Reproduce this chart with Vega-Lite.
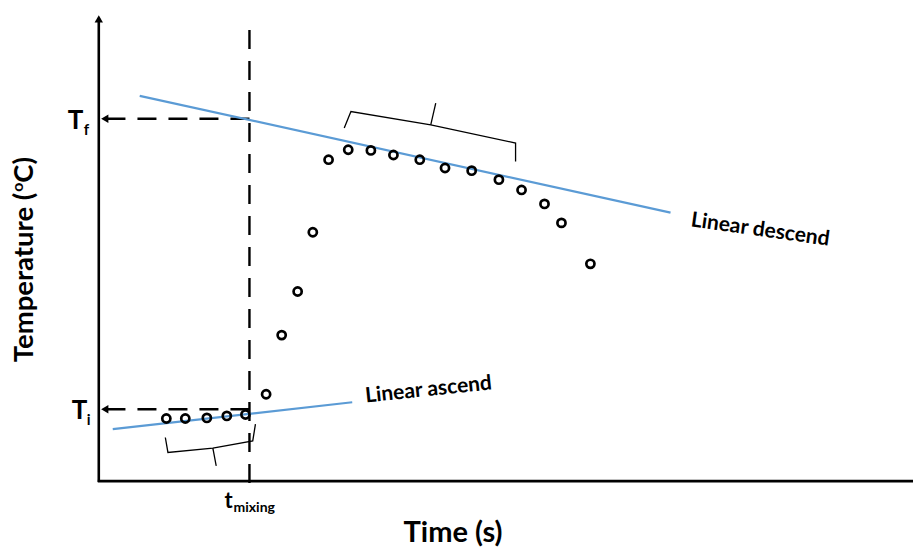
{
  "$schema": "https://vega.github.io/schema/vega-lite/v6.json",
  "width": 915,
  "height": 548,
  "autosize": {"type": "fit", "contains": "padding"},
  "padding": 0,
  "background": "white",
  "config": {"view": {"stroke": null}, "font": "Lato"},
  "datasets": {
    "axes": [
      {"t": 0, "T": -0.1, "t2": 0, "T2": 46.4},
      {"t": -0.1, "T": 0, "t2": 81.6, "T2": 0}
    ],
    "dashed": [
      {"t": 15.1, "T": 45.2, "t2": 15.1, "T2": -0.8},
      {"t": 15.1, "T": 36.3, "t2": 0.3, "T2": 36.3},
      {"t": 15.1, "T": 7.2, "t2": 0.3, "T2": 7.2}
    ],
    "arrows": [
      {"t": 0, "T": 46.3, "dir": "up"},
      {"t": 0.6, "T": 36.3, "dir": "left"},
      {"t": 0.6, "T": 7.2, "dir": "left"}
    ],
    "fits": [
      {"line": "descend", "t": 4.1, "T": 38.6},
      {"line": "descend", "t": 57.3, "T": 26.9},
      {"line": "ascend", "t": 1.4, "T": 5.2},
      {"line": "ascend", "t": 25.4, "T": 7.9}
    ],
    "points": [
      {"t": 6.77, "T": 6.27},
      {"t": 8.67, "T": 6.27},
      {"t": 10.83, "T": 6.33},
      {"t": 12.83, "T": 6.53},
      {"t": 14.7, "T": 6.67},
      {"t": 16.77, "T": 8.7},
      {"t": 18.33, "T": 14.63},
      {"t": 19.93, "T": 19.0},
      {"t": 21.45, "T": 24.93},
      {"t": 23.03, "T": 32.2},
      {"t": 25.0, "T": 33.2},
      {"t": 27.27, "T": 33.13},
      {"t": 29.53, "T": 32.67},
      {"t": 32.17, "T": 32.2},
      {"t": 34.7, "T": 31.37},
      {"t": 37.37, "T": 31.1},
      {"t": 40.1, "T": 30.2},
      {"t": 42.37, "T": 29.17},
      {"t": 44.67, "T": 27.77},
      {"t": 46.37, "T": 25.87},
      {"t": 49.27, "T": 21.77}
    ],
    "brackets": [
      {"g": "b1", "o": 1, "t": 6.67, "T": 4.37},
      {"g": "b1", "o": 2, "t": 6.93, "T": 2.87},
      {"g": "b1", "o": 3, "t": 11.43, "T": 3.3},
      {"g": "b1", "o": 4, "t": 15.43, "T": 4.03},
      {"g": "b1", "o": 5, "t": 15.7, "T": 5.7},
      {"g": "b2", "o": 1, "t": 11.43, "T": 3.3},
      {"g": "b2", "o": 2, "t": 11.77, "T": 1.53},
      {"g": "a1", "o": 1, "t": 24.6, "T": 35.37},
      {"g": "a1", "o": 2, "t": 25.27, "T": 37.03},
      {"g": "a1", "o": 3, "t": 33.27, "T": 35.7},
      {"g": "a1", "o": 4, "t": 41.77, "T": 33.87},
      {"g": "a1", "o": 5, "t": 41.77, "T": 32.03},
      {"g": "a2", "o": 1, "t": 33.27, "T": 35.7},
      {"g": "a2", "o": 2, "t": 33.77, "T": 37.87}
    ]
  },
  "encoding": {
    "x": {"field": "t", "type": "quantitative", "scale": {"domain": [-9.9, 81.6], "nice": false, "zero": false}, "axis": null},
    "y": {"field": "T", "type": "quantitative", "scale": {"domain": [-6.6, 48.2], "nice": false, "zero": false}, "axis": null}
  },
  "layer": [
    {
      "data": {"name": "axes"},
      "mark": {"type": "rule", "color": "black", "strokeWidth": 2.6},
      "encoding": {"x2": {"field": "t2"}, "y2": {"field": "T2"}}
    },
    {
      "data": {"name": "dashed"},
      "mark": {"type": "rule", "color": "black", "strokeWidth": 2.4, "strokeDash": [19, 12]},
      "encoding": {"x2": {"field": "t2"}, "y2": {"field": "T2"}}
    },
    {
      "data": {"name": "arrows"},
      "mark": {"type": "point", "filled": true, "color": "black", "opacity": 1, "size": 70},
      "encoding": {
        "shape": {"field": "dir", "type": "nominal", "scale": {"domain": ["up", "left"], "range": ["triangle-up", "triangle-left"]}, "legend": null}
      }
    },
    {
      "data": {"name": "fits"},
      "mark": {"type": "line", "color": "#5B9BD5", "strokeWidth": 2.2},
      "encoding": {"detail": {"field": "line", "type": "nominal"}}
    },
    {
      "data": {"name": "brackets"},
      "mark": {"type": "line", "color": "black", "strokeWidth": 1.3},
      "encoding": {"detail": {"field": "g", "type": "nominal"}, "order": {"field": "o", "type": "quantitative"}}
    },
    {
      "data": {"name": "points"},
      "mark": {"type": "point", "shape": "circle", "filled": false, "color": "black", "opacity": 1, "strokeWidth": 2.7, "size": 66}
    },
    {
      "data": {"values": [{"label": "Time (s)", "t": 35.5, "T": -6.1}]},
      "mark": {"type": "text", "fontSize": 29, "fontWeight": "bold", "align": "center", "baseline": "alphabetic", "color": "black"},
      "encoding": {"text": {"field": "label"}}
    },
    {
      "data": {"values": [{"label": "Temperature (", "t": -6.6, "T": 28.9}]},
      "mark": {"type": "text", "fontSize": 27.5, "fontWeight": "bold", "align": "right", "baseline": "alphabetic", "angle": 270, "color": "black"},
      "encoding": {"text": {"field": "label"}}
    },
    {
      "data": {"values": [{"label": "o", "t": -6.6, "T": 28.9}]},
      "mark": {"type": "text", "fontSize": 16, "fontWeight": "bold", "align": "left", "baseline": "alphabetic", "angle": 270, "dx": 1, "dy": -10, "color": "black"},
      "encoding": {"text": {"field": "label"}}
    },
    {
      "data": {"values": [{"label": "C)", "t": -6.6, "T": 28.9}]},
      "mark": {"type": "text", "fontSize": 27.5, "fontWeight": "bold", "align": "left", "baseline": "alphabetic", "angle": 270, "dx": 10, "color": "black"},
      "encoding": {"text": {"field": "label"}}
    },
    {
      "data": {"values": [{"label": "T", "t": -3.1, "T": 35.3}, {"label": "T", "t": -2.7, "T": 6.2}]},
      "mark": {"type": "text", "fontSize": 26, "fontWeight": "bold", "align": "left", "baseline": "alphabetic", "color": "black"},
      "encoding": {"text": {"field": "label"}}
    },
    {
      "data": {"values": [{"label": "f", "t": -1.5, "T": 34.7}, {"label": "i", "t": -1.2, "T": 5.6}]},
      "mark": {"type": "text", "fontSize": 15, "fontWeight": "bold", "align": "left", "baseline": "alphabetic", "color": "black"},
      "encoding": {"text": {"field": "label"}}
    },
    {
      "data": {"values": [{"label": "t", "t": 12.6, "T": -2.7}]},
      "mark": {"type": "text", "fontSize": 22, "fontWeight": "bold", "align": "left", "baseline": "alphabetic", "color": "black"},
      "encoding": {"text": {"field": "label"}}
    },
    {
      "data": {"values": [{"label": "mixing", "t": 13.5, "T": -3.1}]},
      "mark": {"type": "text", "fontSize": 14, "fontWeight": "bold", "align": "left", "baseline": "alphabetic", "color": "black"},
      "encoding": {"text": {"field": "label"}}
    },
    {
      "data": {"values": [{"label": "Linear descend", "t": 59.27, "T": 25.53}]},
      "mark": {"type": "text", "fontSize": 21, "fontWeight": "bold", "align": "left", "baseline": "alphabetic", "angle": 8, "color": "black"},
      "encoding": {"text": {"field": "label"}}
    },
    {
      "data": {"values": [{"label": "Linear ascend", "t": 26.77, "T": 7.87}]},
      "mark": {"type": "text", "fontSize": 21, "fontWeight": "bold", "align": "left", "baseline": "alphabetic", "angle": 354, "color": "black"},
      "encoding": {"text": {"field": "label"}}
    }
  ]
}
